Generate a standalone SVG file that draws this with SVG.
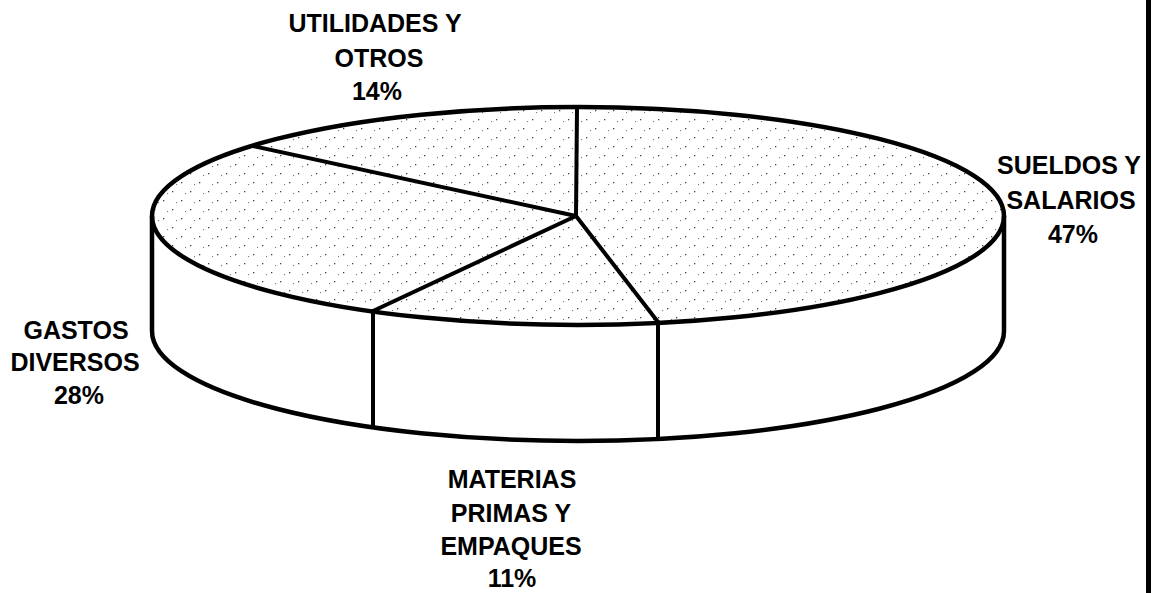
<svg xmlns="http://www.w3.org/2000/svg" width="1152" height="593" viewBox="0 0 1152 593">
<defs>
<pattern id="dots" patternUnits="userSpaceOnUse" width="18" height="18">
<rect x="1" y="2" width="1.3" height="1.3" fill="#444"/>
<rect x="10" y="11" width="1.3" height="1.3" fill="#444"/>
<rect x="14" y="4" width="1.1" height="1.1" fill="#777"/>
<rect x="5" y="13" width="1.1" height="1.1" fill="#777"/>
</pattern>
<style>
.wall{fill:#fff;stroke:#000;stroke-width:4.5;stroke-linejoin:round}
.top{fill:url(#dots);stroke:#000;stroke-width:4.5}
.div{fill:none;stroke:#000;stroke-width:4;stroke-linecap:round}
.lbl{font-family:"Liberation Sans",Arial,sans-serif;font-weight:bold;font-size:25px;fill:#000;text-anchor:middle}
</style>
</defs>
<rect width="1152" height="593" fill="#fff"/>
<g id="pie">
<path class="wall" d="M152,216 L152,331 A426,110 0 0 0 1004,331 L1004,216"/>
<ellipse class="top" cx="578" cy="216" rx="426" ry="109"/>
</g>
<g id="connectors">
<line class="div" x1="576" y1="216" x2="577" y2="108"/>
<line class="div" x1="576" y1="216" x2="253" y2="146"/>
<line class="div" x1="576" y1="216" x2="373" y2="311"/>
<line class="div" x1="576" y1="216" x2="658" y2="322"/>
<line class="div" x1="373" y1="311" x2="373" y2="426"/>
<line class="div" x1="658" y1="322" x2="658" y2="438"/>
</g>
<g id="utilidades">
<text class="lbl" x="375" y="32">UTILIDADES Y</text>
<text class="lbl" x="379" y="67">OTROS</text>
<text class="lbl" x="377" y="100">14%</text>
</g>
<g id="sueldos">
<text class="lbl" x="1069" y="174">SUELDOS Y</text>
<text class="lbl" x="1071" y="209">SALARIOS</text>
<text class="lbl" x="1073" y="243">47%</text>
</g>
<g id="gastos">
<text class="lbl" x="76" y="339">GASTOS</text>
<text class="lbl" x="75" y="371">DIVERSOS</text>
<text class="lbl" x="79" y="404">28%</text>
</g>
<g id="materias">
<text class="lbl" x="512" y="488">MATERIAS</text>
<text class="lbl" x="511" y="522">PRIMAS Y</text>
<text class="lbl" x="511" y="555">EMPAQUES</text>
<text class="lbl" x="512" y="587">11%</text>
</g>
<rect x="1146" y="0" width="5" height="593" fill="#000"/>
</svg>
